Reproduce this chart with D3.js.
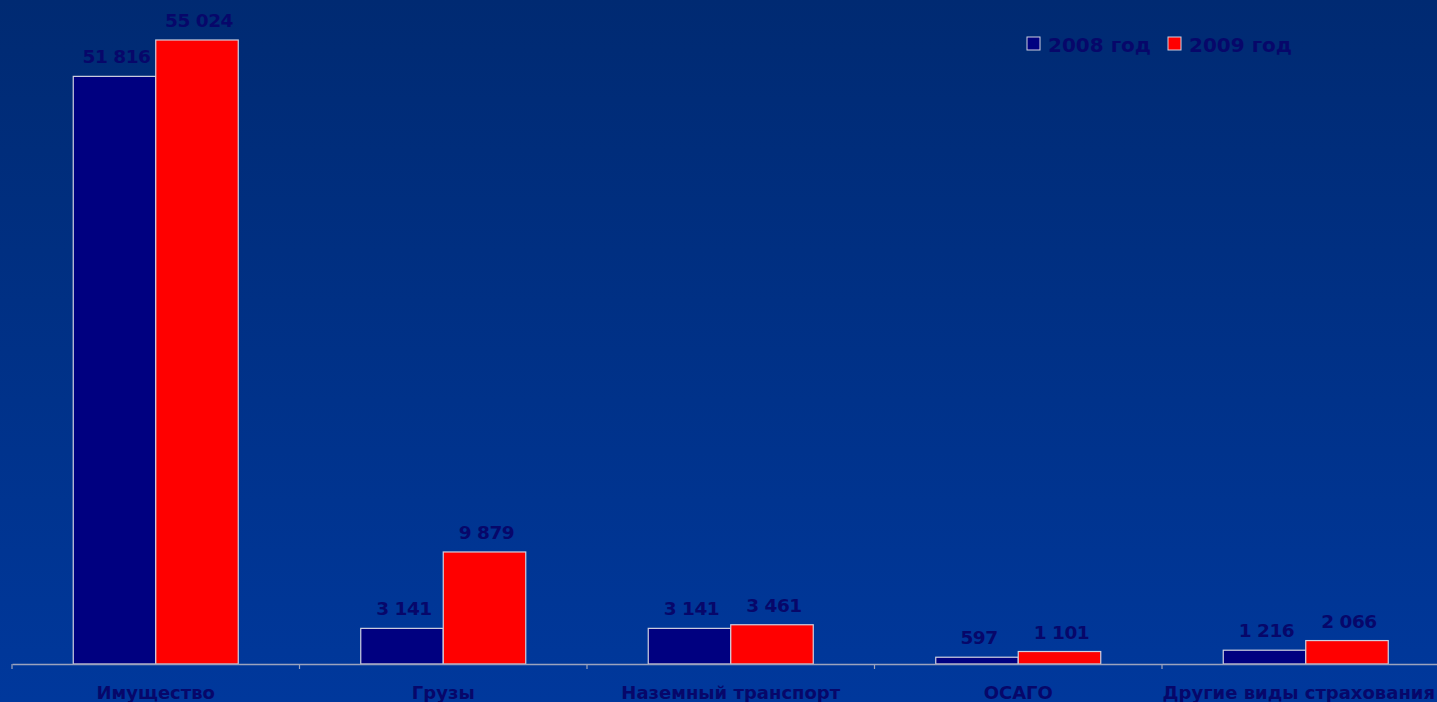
<!DOCTYPE html>
<html>
<head>
<meta charset="utf-8">
<script src="https://cdn.jsdelivr.net/npm/d3@7"></script>
<style>
html,body{margin:0;padding:0;overflow:hidden;background:#00307f;}
svg{display:block;}
</style>
</head>
<body>
<svg id="chart" width="1437" height="702"></svg>
<script>
const categories = ["Имущество", "Грузы", "Наземный транспорт", "ОСАГО", "Другие виды страхования"];
const seriesNames = ["2008 год", "2009 год"];
const values2008 = [51816, 3141, 3141, 597, 1216];
const values2009 = [55024, 9879, 3461, 1101, 2066];
const colors = ["#000080", "#ff0000"];

const W = 1437, H = 702;
const svg = d3.select("#chart");
const defs = svg.append("defs");
const grad = defs.append("linearGradient").attr("id","bg").attr("x1",0).attr("y1",0).attr("x2",0).attr("y2",1);
grad.append("stop").attr("offset","0%").attr("stop-color","#002a72");
grad.append("stop").attr("offset","100%").attr("stop-color","#00389c");
svg.append("rect").attr("width",W).attr("height",H).attr("fill","url(#bg)");

const baseY = 664;
const x = d3.scaleBand().domain(categories).range([12, 12 + 5*287.5]).padding(0);
const barW = 82.5;
const x1 = d3.scaleBand().domain(seriesNames).range([-barW, barW]).padding(0);
const y = d3.scaleLinear().domain([0, d3.max(values2009)]).range([baseY, 40]);

const data = [];
categories.forEach((c,i)=>{
  data.push({c, s:seriesNames[0], v:values2008[i], col:colors[0]});
  data.push({c, s:seriesNames[1], v:values2009[i], col:colors[1]});
});

const textColor = "#07076a";
const g = svg.append("g");

g.selectAll("rect.bar").data(data).enter().append("rect")
  .attr("class","bar")
  .attr("x", d => x(d.c) + x.bandwidth()/2 + x1(d.s))
  .attr("y", d => y(d.v))
  .attr("width", x1.bandwidth())
  .attr("height", d => baseY - y(d.v))
  .attr("fill", d => d.col)
  .attr("stroke", "#d0d0e0")
  .attr("stroke-width", 1.2);

// axis
const axis = d3.axisBottom(x).tickSize(0).tickFormat("");
const ax = svg.append("g").attr("transform", `translate(0,${baseY})`).call(axis);
ax.select(".domain").attr("stroke","#9ca3bd").attr("stroke-width",1.5);
ax.selectAll(".tick").remove();
const bounds = categories.map(c => x(c)).concat([x.range()[1]]);
svg.append("g").selectAll("line").data(bounds).enter().append("line")
  .attr("x1", d=>d).attr("x2", d=>d)
  .attr("y1", baseY).attr("y2", baseY+5)
  .attr("stroke","#9ca3bd").attr("stroke-width",1.2);

// value labels
g.selectAll("text.val").data(data).enter().append("text")
  .attr("class","val")
  .attr("x", d => x(d.c) + x.bandwidth()/2 + x1(d.s) + x1.bandwidth()/2 + 2)
  .attr("y", d => y(d.v) - 13)
  .attr("text-anchor","middle")
  .attr("font-family","DejaVu Sans, Verdana, sans-serif")
  .attr("font-weight","bold")
  .attr("font-size","18.5px")
  .attr("letter-spacing","-0.5px")
  .attr("fill", textColor)
  .text(d => d3.format(",")(d.v).replace(/,/g," "));

// category labels
svg.append("g").selectAll("text").data(categories).enter().append("text")
  .attr("x", d => x(d) + x.bandwidth()/2)
  .attr("y", 699)
  .attr("text-anchor","middle")
  .attr("font-family","DejaVu Sans, Verdana, sans-serif")
  .attr("font-weight","bold")
  .attr("font-size","18px")
  .attr("fill", textColor)
  .text(d => d)
  .each(function(){
    const bb = this.getBBox();
    if (bb.x + bb.width > W - 2) {
      d3.select(this).attr("x", +d3.select(this).attr("x") - (bb.x + bb.width - (W - 2)));
    }
  });

// legend
const legend = svg.append("g");
const legX = [1027, 1168];
seriesNames.forEach((s,i)=>{
  legend.append("rect").attr("x", legX[i]).attr("y", 37).attr("width", 13).attr("height", 13)
    .attr("fill", colors[i]).attr("stroke","#d0d0e0").attr("stroke-width",1);
  legend.append("text").attr("x", legX[i]+21).attr("y", 51.5)
    .attr("font-family","DejaVu Sans, Verdana, sans-serif")
    .attr("font-weight","bold").attr("font-size","20px")
    .attr("fill", textColor).text(s);
});
</script>
</body>
</html>
